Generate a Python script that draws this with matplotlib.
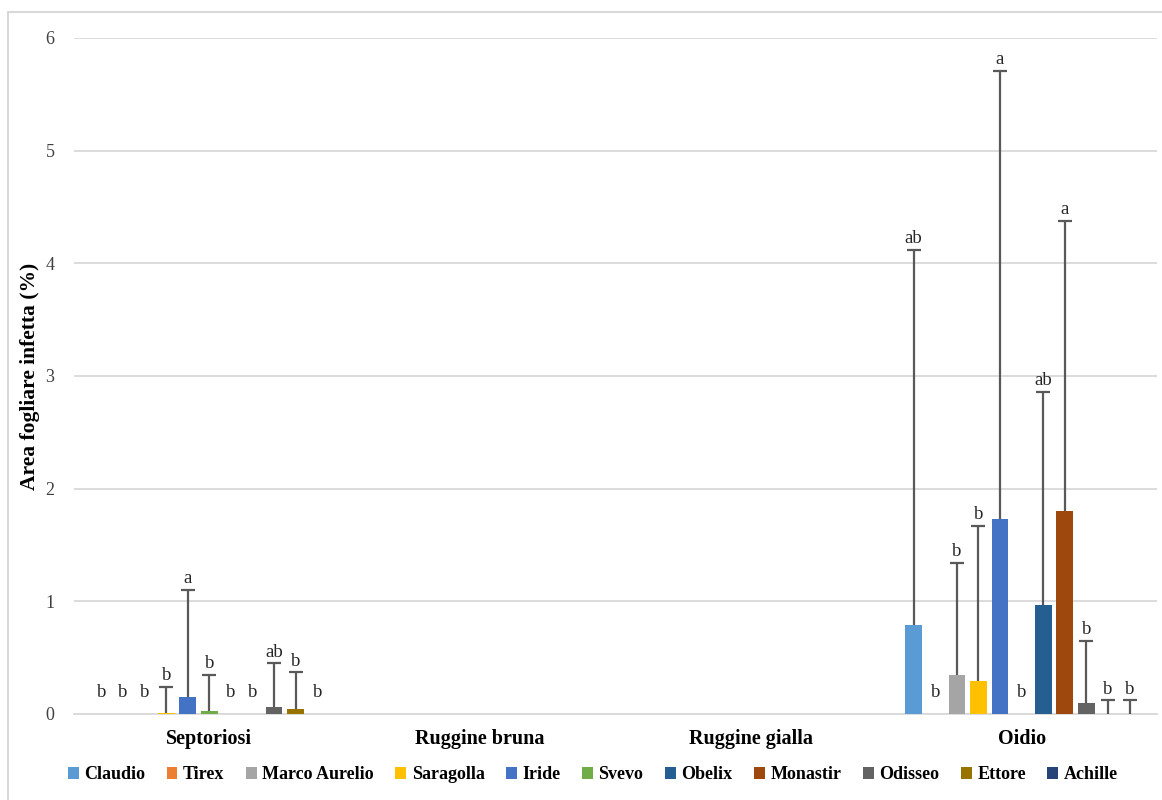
import matplotlib.pyplot as plt
from matplotlib.lines import Line2D
import numpy as np

plt.rcParams['font.family'] = ['Liberation Serif', 'DejaVu Serif']

malattie = ["Septoriosi", "Ruggine bruna", "Ruggine gialla", "Oidio"]
varieta = ["Claudio", "Tirex", "Marco Aurelio", "Saragolla", "Iride", "Svevo",
           "Obelix", "Monastir", "Odisseo", "Ettore", "Achille"]
colori = ["#5B9BD5", "#ED7D31", "#A5A5A5", "#FFC000", "#4472C4", "#70AD47",
          "#255E91", "#9E480E", "#636363", "#997300", "#264478"]

# medie per varietà: [Septoriosi, Ruggine bruna, Ruggine gialla, Oidio]
medie = {
    "Claudio":       [0.00, 0, 0, 0.79],
    "Tirex":         [0.00, 0, 0, 0.00],
    "Marco Aurelio": [0.00, 0, 0, 0.35],
    "Saragolla":     [0.01, 0, 0, 0.29],
    "Iride":         [0.15, 0, 0, 1.73],
    "Svevo":         [0.03, 0, 0, 0.00],
    "Obelix":        [0.00, 0, 0, 0.97],
    "Monastir":      [0.00, 0, 0, 1.80],
    "Odisseo":       [0.06, 0, 0, 0.10],
    "Ettore":        [0.04, 0, 0, 0.00],
    "Achille":       [0.00, 0, 0, 0.00],
}
# deviazione standard (solo barra superiore)
errori = {
    "Claudio":       [0.00, 0, 0, 3.33],
    "Tirex":         [0.00, 0, 0, 0.00],
    "Marco Aurelio": [0.00, 0, 0, 0.99],
    "Saragolla":     [0.23, 0, 0, 1.38],
    "Iride":         [0.95, 0, 0, 3.98],
    "Svevo":         [0.32, 0, 0, 0.00],
    "Obelix":        [0.00, 0, 0, 1.89],
    "Monastir":      [0.00, 0, 0, 2.58],
    "Odisseo":       [0.39, 0, 0, 0.55],
    "Ettore":        [0.33, 0, 0, 0.12],
    "Achille":       [0.00, 0, 0, 0.12],
}
# lettere del test di separazione delle medie
lettere = {
    "Claudio":       ["b", "", "", "ab"],
    "Tirex":         ["b", "", "", "b"],
    "Marco Aurelio": ["b", "", "", "b"],
    "Saragolla":     ["b", "", "", "b"],
    "Iride":         ["a", "", "", "a"],
    "Svevo":         ["b", "", "", "b"],
    "Obelix":        ["b", "", "", "ab"],
    "Monastir":      ["b", "", "", "a"],
    "Odisseo":       ["ab", "", "", "b"],
    "Ettore":        ["b", "", "", "b"],
    "Achille":       ["b", "", "", "b"],
}

fig = plt.figure(figsize=(11.62, 8.0), dpi=100)
ax = fig.add_axes([0.0637, 0.1075, 0.932, 0.845])

x = np.arange(len(malattie))
n = len(varieta)
passo = 0.0797
larghezza = 0.0616

for i, v in enumerate(varieta):
    pos = x + (i - (n - 1) / 2) * passo
    m = np.array(medie[v])
    e = np.array(errori[v])
    ax.bar(pos, m, width=larghezza, color=colori[i], label=v, zorder=3)
    mask = e > 0
    if mask.any():
        _, caps, _ = ax.errorbar(pos[mask], m[mask], yerr=[np.zeros(mask.sum()), e[mask]],
                                 fmt='none', ecolor="#595959", elinewidth=1.6,
                                 capsize=5, capthick=1.6, zorder=4)
        caps[0].set_visible(False)  # niente cappuccio inferiore
    for j, lab in enumerate(lettere[v]):
        if not lab:
            continue
        top = m[j] + e[j]
        y = top if e[j] > 0.2 else max(top, 0.09)
        ax.annotate(lab, (pos[j], y), xytext=(0, 2), textcoords="offset points",
                    ha="center", va="bottom", fontsize=13.5, color="#262626")

ax.set_xlim(-0.5, 3.5)
ax.set_ylim(0, 6)
ax.set_yticks(range(7))
ax.set_xticks(x)
ax.set_xticklabels(malattie, fontsize=14.5, fontweight="bold")
ax.tick_params(axis="y", labelsize=13, length=0, pad=14, labelcolor="#404040")
ax.tick_params(axis="x", length=0, pad=11)
ax.yaxis.grid(True, color="#D9D9D9", linewidth=1.3, zorder=0)
ax.set_axisbelow(True)
for s in ["top", "right", "left"]:
    ax.spines[s].set_visible(False)
ax.spines["bottom"].set_color("#D9D9D9")
ax.spines["bottom"].set_linewidth(1.3)

ax.set_ylabel("Area fogliare infetta (%)", fontsize=15.5, fontweight="bold")
ax.yaxis.set_label_coords(-0.031, 0.5)

ax.legend(loc="center", bbox_to_anchor=(0.479, -0.09), ncol=n, frameon=False,
          prop={"size": 13, "weight": "bold"}, handlelength=0.6, handleheight=0.6,
          handletextpad=0.3, columnspacing=1.2)

# bordo dell'area del grafico
fig.add_artist(Line2D([8 / 1162, 8 / 1162], [0, 1 - 12 / 800], color="#D9D9D9", lw=1.5))
fig.add_artist(Line2D([8 / 1162, 1], [1 - 12 / 800, 1 - 12 / 800], color="#D9D9D9", lw=1.5))

fig.savefig("out.png", dpi=100, facecolor="white")
